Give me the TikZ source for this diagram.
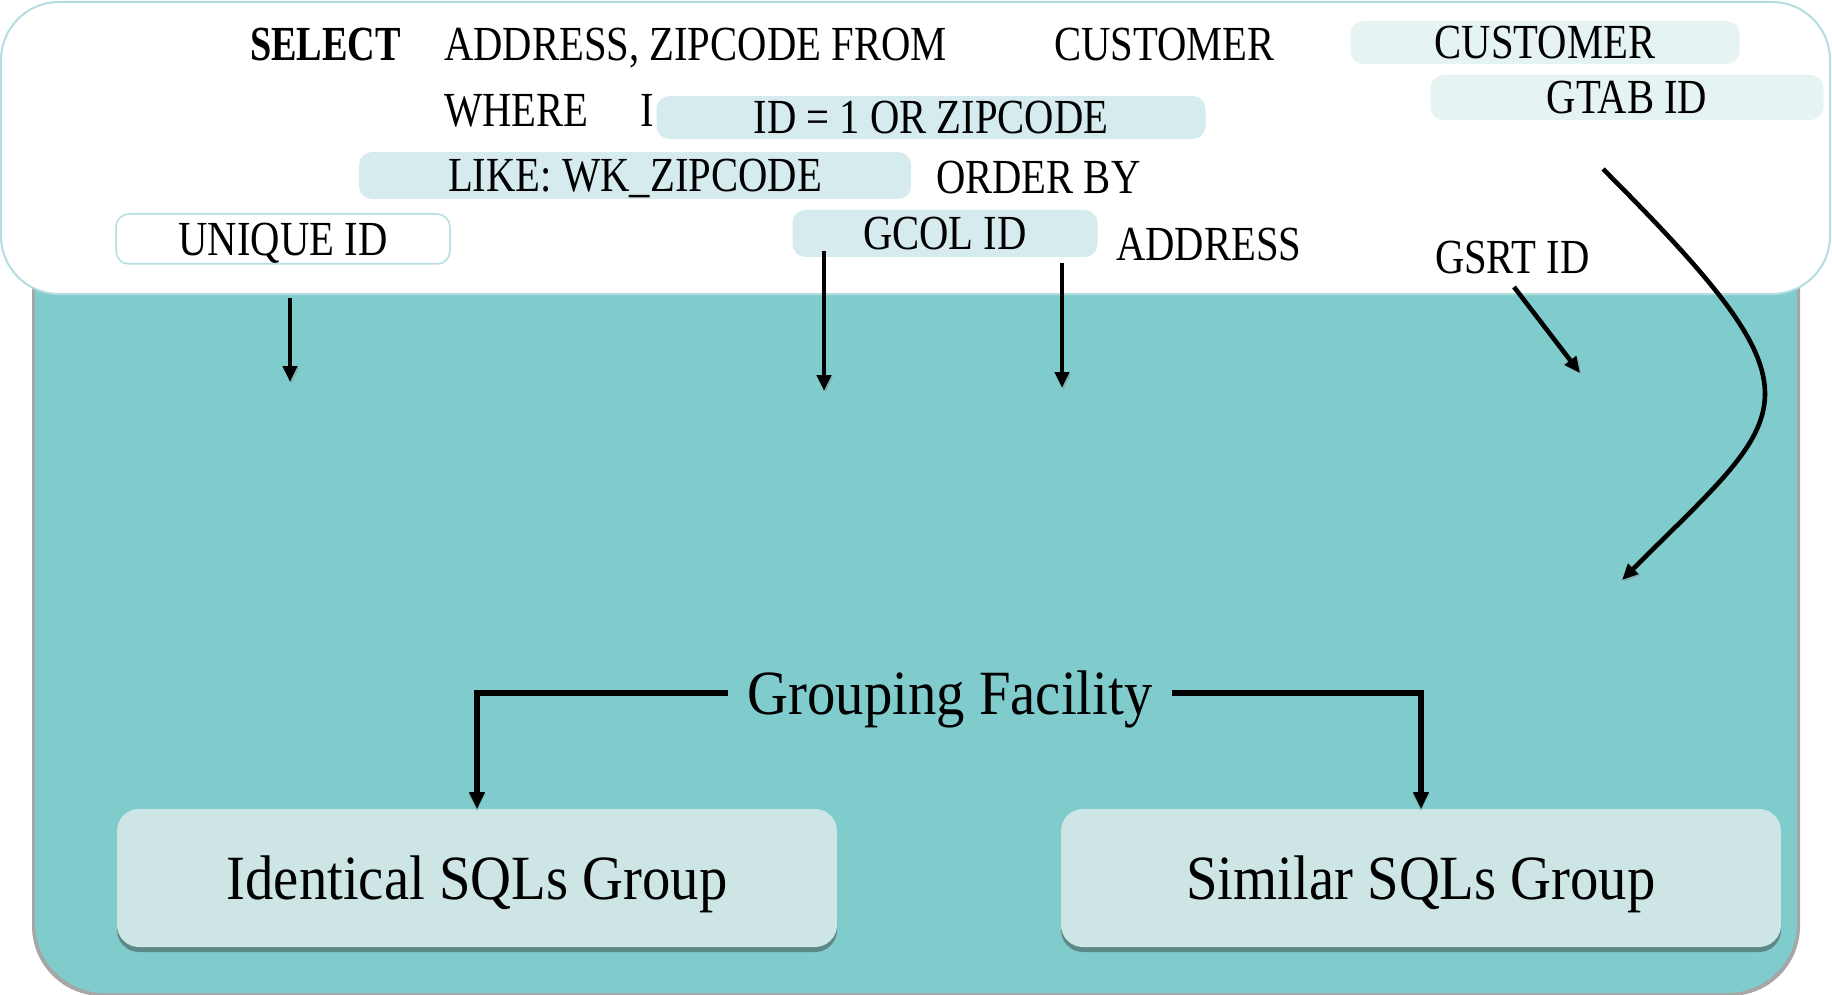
\documentclass[tikz,border=0pt]{standalone}
\usepackage{fontspec}
\setmainfont[FakeStretch=0.83, BoldFeatures={FakeStretch=0.78}]{Liberation Serif}
\newfontfamily\bigserif[FakeStretch=0.9]{Liberation Serif}
\usetikzlibrary{arrows.meta,shadows}

\definecolor{tealbg}{HTML}{80CBCC}
\definecolor{rimc}{HTML}{B3DDE1}
\definecolor{hl}{HTML}{D6EBED}
\definecolor{hlpale}{HTML}{E6F3F3}
\definecolor{grpfill}{HTML}{CDE5E5}
\definecolor{grpshade}{HTML}{5C8986}

\begin{document}
\begin{tikzpicture}[x=1pt,y=-1pt,
  every node/.style={inner sep=0pt, outer sep=0pt},
  sqlfont/.style={font=\fontsize{49}{56}\selectfont},
  word/.style={sqlfont, anchor=base west},
  hlbox/.style={sqlfont, fill=hl, rounded corners=13pt, text height=32pt, text depth=0pt},
  palebox/.style={hlbox, fill=hlpale},
  rimbox/.style={hlbox, fill=white, draw=rimc, line width=1.5pt},
  bigfont/.style={font=\bigserif\fontsize{63}{72}\selectfont, text height=42pt, text depth=0pt},
  grp/.style={bigfont, fill=grpfill, rounded corners=22pt,
    minimum width=720pt, minimum height=138pt,
    drop shadow={shadow xshift=0pt, shadow yshift=-5pt, fill=grpshade, opacity=1}},
  arr/.style={line width=4.6pt, -{Triangle[length=16pt,width=14pt]},
    preaction={draw=black!45, opacity=0.5, transform canvas={xshift=1.5pt,yshift=-1.5pt}}},
  link/.style={line width=5.5pt, -{Triangle[length=17pt,width=15pt]},
    preaction={draw=grpshade, opacity=0.6, transform canvas={xshift=0pt,yshift=-2pt}}},
]
\useasboundingbox (0,0) rectangle (1832,995);

% teal panel with its shadow
\fill[black!35, rounded corners=70pt] (32,200) rectangle (1800,996);
\fill[tealbg, rounded corners=70pt] (35,200) rectangle (1797,993);

% white query panel
\draw[fill=white, draw=rimc, line width=2pt, rounded corners=58pt] (1,2) rectangle (1830,294);

% query text
\node[word, font=\fontsize{49}{56}\selectfont\bfseries] (sel) at (250,61) {SELECT};
\node[word] (cols) at (444,61) {ADDRESS, ZIPCODE FROM};
\node[word] (tab) at (1054,61) {CUSTOMER};
\node[word] (where) at (444,127) {WHERE};
\node[word] (wi) at (640,127) {I};
\node[word] (ord) at (936,194) {ORDER BY};
\node[word] (ordcol) at (1116,261) {ADDRESS};
\node[word] (gsrt) at (1435,273) {GSRT ID};

% highlighted fragments
\node[palebox, minimum width=389pt, minimum height=43pt] (cust) at (1545,42.5) {CUSTOMER};
\node[palebox, minimum width=393pt, minimum height=45pt] (gtab) at (1627,97.5) {GTAB ID};
\node[hlbox, minimum width=549pt, minimum height=43pt] (cond) at (931,117.5) {ID = 1 OR ZIPCODE};
\node[hlbox, minimum width=552pt, minimum height=47pt] (like) at (635,175.5) {LIKE: WK\_ZIPCODE};
\node[rimbox, minimum width=334pt, minimum height=50pt] (uid) at (283,239) {UNIQUE ID};
\node[hlbox, minimum width=305pt, minimum height=47pt] (gcol) at (945,233.5) {GCOL ID};

% arrow end points
\coordinate (u0) at (290,298);  \coordinate (u1) at (290,382);
\coordinate (c0) at (824,251);  \coordinate (c1) at (824,391);
\coordinate (o0) at (1062,263); \coordinate (o1) at (1062,388);
\coordinate (s0) at (1514,287); \coordinate (s1) at (1580,373);
\coordinate (t0) at (1603,169); \coordinate (t1) at (1622,580);

\draw[arr] (u0) -- (u1);
\draw[arr] (c0) -- (c1);
\draw[arr] (o0) -- (o1);
\draw[arr] (s0) -- (s1);
\draw[arr] (t0) .. controls (1835,401) and (1793,409) .. (t1);

% grouping
\node[bigfont, inner xsep=20pt] (gf) at (950,693) {Grouping Facility};
\node[grp] (ident) at (477,878) {Identical SQLs Group};
\node[grp] (simil) at (1421,878) {Similar SQLs Group};

\draw[link] (gf.west) -| (ident.north);
\draw[link] (gf.east) -| (simil.north);
\end{tikzpicture}
\end{document}
